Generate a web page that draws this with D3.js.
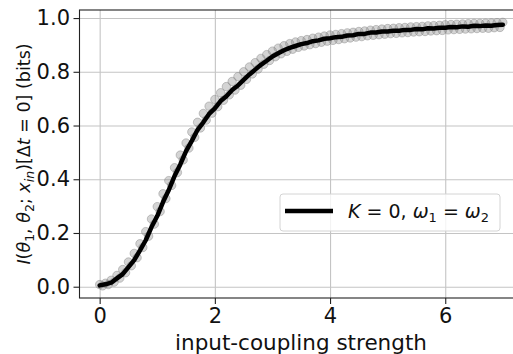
<!DOCTYPE html>
<html>
<head>
<meta charset="utf-8">
<script src="https://cdn.jsdelivr.net/npm/d3@7"></script>
<style>
  html, body { margin: 0; padding: 0; background: #fff; }
  svg { display: block; font-family: 'DejaVu Sans', sans-serif; }
</style>
</head>
<body>
<div id="chart"></div>
<script>
// mean curve, sampled every 0.1 from 0 to 7
const lineX = d3.range(0, 71).map((i) => i / 10);
const lineY = [
  0.005, 0.009, 0.015, 0.031, 0.047, 0.073, 0.099, 0.135, 0.173, 0.222,
  0.263, 0.315, 0.360, 0.412, 0.455, 0.505, 0.543, 0.584, 0.612, 0.643,
  0.664, 0.691, 0.709, 0.732, 0.749, 0.770, 0.790, 0.808, 0.826, 0.841,
  0.857, 0.869, 0.880, 0.889, 0.896, 0.903, 0.907, 0.914, 0.917, 0.923,
  0.925, 0.929, 0.930, 0.935, 0.936, 0.941, 0.941, 0.946, 0.946, 0.950,
  0.950, 0.953, 0.953, 0.956, 0.956, 0.959, 0.958, 0.962, 0.961, 0.964,
  0.964, 0.967, 0.966, 0.969, 0.968, 0.971, 0.970, 0.972, 0.971, 0.974,
  0.975
];

// individual estimates (grey dots), every 0.05 from 0 to 7
const dotX = d3.range(0, 141).map((i) => i / 20);
const dotY = [
  0.008, 0.003, 0.013, 0.008, 0.024, 0.017, 0.042, 0.032, 0.064, 0.052,
  0.092, 0.078, 0.124, 0.108, 0.160, 0.146, 0.205, 0.188, 0.252, 0.233,
  0.298, 0.280, 0.346, 0.328, 0.395, 0.377, 0.443, 0.425, 0.490, 0.472,
  0.535, 0.516, 0.576, 0.556, 0.612, 0.591, 0.645, 0.620, 0.672, 0.646,
  0.697, 0.670, 0.722, 0.694, 0.745, 0.714, 0.764, 0.732, 0.782, 0.750,
  0.800, 0.772, 0.818, 0.792, 0.834, 0.810, 0.850, 0.828, 0.864, 0.842,
  0.877, 0.856, 0.888, 0.867, 0.897, 0.876, 0.905, 0.884, 0.911, 0.891,
  0.916, 0.896, 0.920, 0.901, 0.925, 0.905, 0.929, 0.910, 0.933, 0.914,
  0.937, 0.917, 0.939, 0.920, 0.942, 0.923, 0.945, 0.926, 0.947, 0.929,
  0.950, 0.931, 0.952, 0.934, 0.955, 0.936, 0.957, 0.938, 0.959, 0.940,
  0.961, 0.942, 0.962, 0.943, 0.964, 0.945, 0.965, 0.946, 0.967, 0.948,
  0.968, 0.949, 0.969, 0.950, 0.971, 0.952, 0.972, 0.953, 0.973, 0.954,
  0.975, 0.956, 0.976, 0.957, 0.977, 0.958, 0.978, 0.959, 0.979, 0.960,
  0.980, 0.961, 0.980, 0.962, 0.981, 0.962, 0.982, 0.964, 0.983, 0.965,
  0.984
];

const xTicks = [0, 2, 4, 6];
const yTicks = [0.0, 0.2, 0.4, 0.6, 0.8, 1.0];

const W = 513;
const H = 354;
// axes box; right spine falls just outside the picture
const margin = { top: 10, right: -10, bottom: 56, left: 79.5 };
const plotW = W - margin.left - margin.right;
const plotH = H - margin.top - margin.bottom;

const svg = d3.select('#chart').append('svg').attr('width', W).attr('height', H);
const g = svg.append('g').attr('transform', `translate(${margin.left},${margin.top})`);

const x = d3.scaleLinear().domain([-0.35, 7.35]).range([0, plotW]);
const y = d3.scaleLinear().domain([-0.042, 1.030]).range([plotH, 0]);

// grid
g.append('g')
  .attr('transform', `translate(0,${plotH})`)
  .call(d3.axisBottom(x).tickValues(xTicks).tickSize(-plotH).tickFormat(''))
  .call((s) => s.select('.domain').remove())
  .call((s) => s.selectAll('line').attr('stroke', '#c4c4c4').attr('stroke-width', 1.1));
g.append('g')
  .call(d3.axisLeft(y).tickValues(yTicks).tickSize(-plotW).tickFormat(''))
  .call((s) => s.select('.domain').remove())
  .call((s) => s.selectAll('line').attr('stroke', '#c4c4c4').attr('stroke-width', 1.1));

// grey dots
g.append('g')
  .selectAll('circle')
  .data(dotX.map((d, i) => [d, dotY[i]]))
  .enter()
  .append('circle')
  .attr('cx', (d) => x(d[0]))
  .attr('cy', (d) => y(d[1]))
  .attr('r', 4.2)
  .attr('fill', '#858585')
  .attr('fill-opacity', 0.35)
  .attr('stroke', '#858585')
  .attr('stroke-opacity', 0.45)
  .attr('stroke-width', 1);

// mean line
const line = d3
  .line()
  .x((d) => x(d[0]))
  .y((d) => y(d[1]));
g.append('path')
  .datum(lineX.map((d, i) => [d, lineY[i]]))
  .attr('fill', 'none')
  .attr('stroke', '#000')
  .attr('stroke-width', 4.5)
  .attr('stroke-linejoin', 'round')
  .attr('stroke-linecap', 'round')
  .attr('d', line);

// frame
g.append('rect')
  .attr('width', plotW)
  .attr('height', plotH)
  .attr('fill', 'none')
  .attr('stroke', '#222')
  .attr('stroke-width', 1.1);

// axes
const xAxis = g
  .append('g')
  .attr('transform', `translate(0,${plotH})`)
  .call(d3.axisBottom(x).tickValues(xTicks).tickSize(6).tickPadding(4.5).tickFormat(d3.format('d')));
const yAxis = g
  .append('g')
  .call(d3.axisLeft(y).tickValues(yTicks).tickSize(6).tickPadding(3.5).tickFormat(d3.format('.1f')));
[xAxis, yAxis].forEach((a) => {
  a.select('.domain').remove();
  a.selectAll('line').attr('stroke', '#222').attr('stroke-width', 1.1);
  a.selectAll('text').attr('font-size', 21).attr('fill', '#111').attr('font-family', 'DejaVu Sans');
});

// x label
svg.append('text')
  .attr('x', 301)
  .attr('y', 350)
  .attr('text-anchor', 'middle')
  .attr('font-size', 21.5)
  .attr('fill', '#111')
  .text('input-coupling strength');

// y label with math parts
const yl = svg.append('text')
  .attr('transform', `translate(30,${margin.top + plotH / 2}) rotate(-90)`)
  .attr('text-anchor', 'middle')
  .attr('font-size', 17.5)
  .attr('fill', '#111');
const parts = [
  ['I', 'i'], ['(', 'n'], ['θ', 'i'], ['1', 's'], [', ', 'n'], ['θ', 'i'], ['2', 's'],
  ['; ', 'n'], ['x', 'i'], ['in', 'si'], [')[Δ', 'n'], ['t', 'i'], [' = 0] (bits)', 'n']
];
parts.forEach(([t, k], i) => {
  const ts = yl.append('tspan').text(t);
  if (k.includes('i')) ts.attr('font-style', 'italic');
  if (k.includes('s')) ts.attr('font-size', 12.5).attr('dy', 3.5);
  else if (i > 0 && parts[i - 1][1].includes('s')) ts.attr('dy', -3.5);
});

// legend
const lg = svg.append('g').attr('transform', 'translate(280,194)');
lg.append('rect')
  .attr('width', 220)
  .attr('height', 37)
  .attr('rx', 3)
  .attr('fill', '#fff')
  .attr('fill-opacity', 0.8)
  .attr('stroke', '#d4d4d4')
  .attr('stroke-width', 1);
lg.append('line')
  .attr('x1', 5)
  .attr('x2', 53)
  .attr('y1', 17)
  .attr('y2', 17)
  .attr('stroke', '#000')
  .attr('stroke-width', 4.5);
const lt = lg.append('text').attr('x', 68).attr('y', 24).attr('font-size', 19).attr('fill', '#111');
const lparts = [
  ['K', 'i'], [' = 0, ', 'n'], ['ω', 'i'], ['1', 's'], [' = ', 'n'], ['ω', 'i'], ['2', 's']
];
lparts.forEach(([t, k], i) => {
  const ts = lt.append('tspan').text(t);
  if (k.includes('i')) ts.attr('font-style', 'italic');
  if (k.includes('s')) ts.attr('font-size', 13).attr('dy', 3.5);
  else if (i > 0 && lparts[i - 1][1].includes('s')) ts.attr('dy', -3.5);
});
</script>
</body>
</html>
